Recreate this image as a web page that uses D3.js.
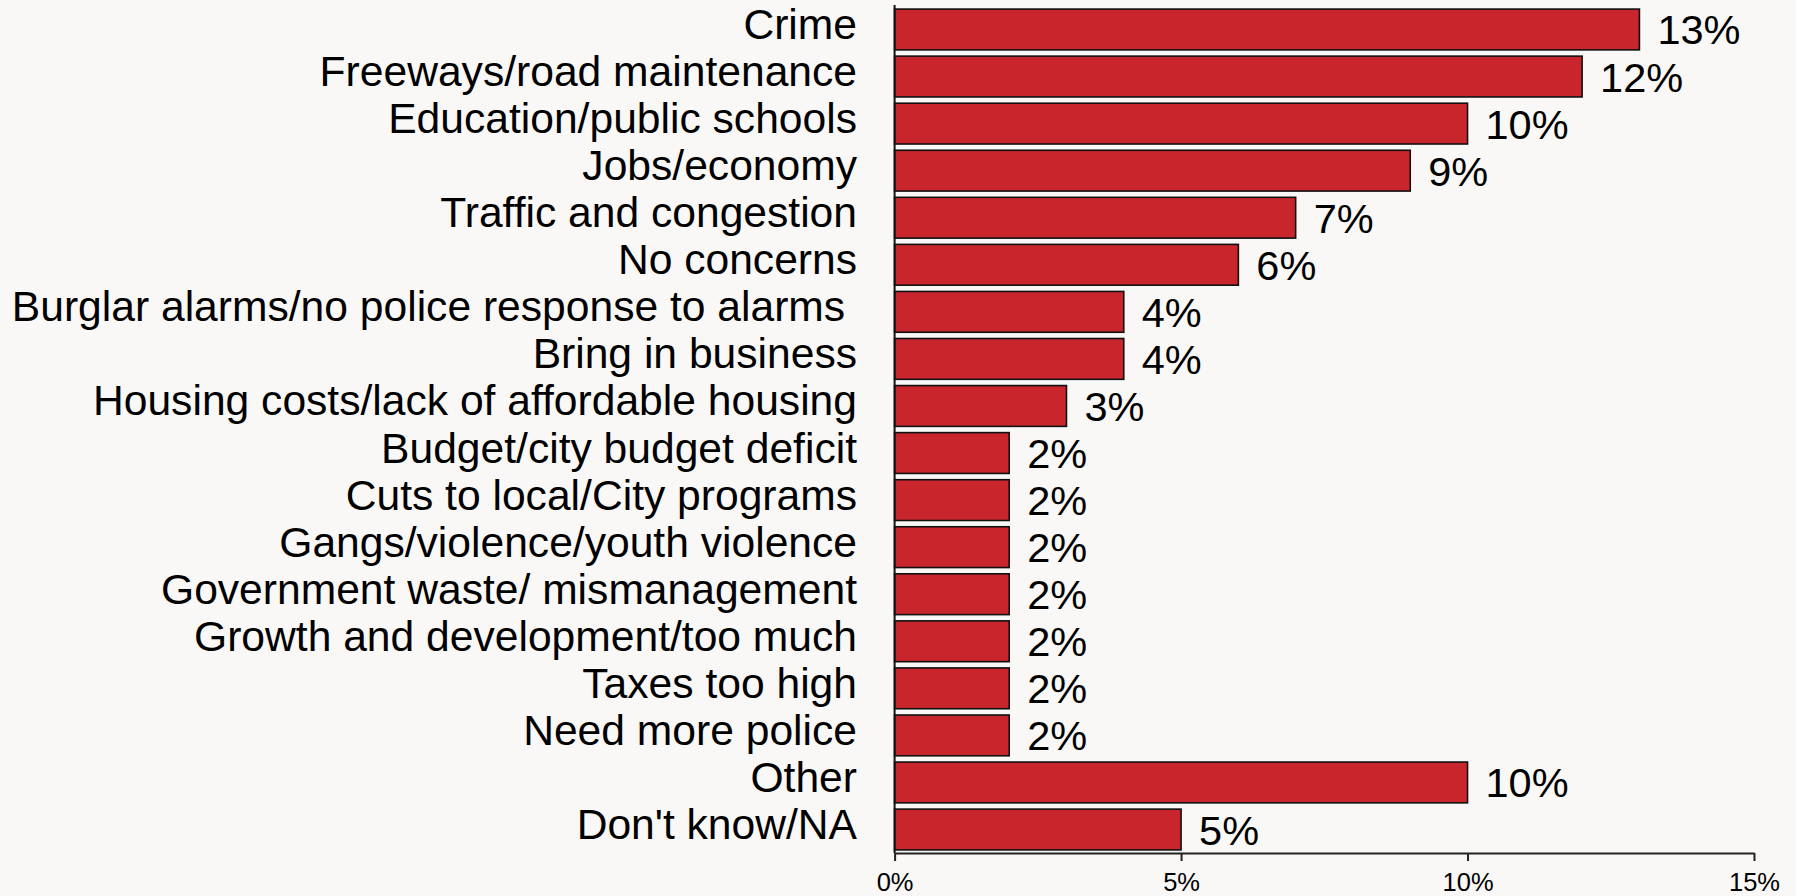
<!DOCTYPE html>
<html>
<head>
<meta charset="utf-8">
<script src="https://cdn.jsdelivr.net/npm/d3@7"></script>
<style>
  html, body { margin: 0; padding: 0; background: #F9F8F6; }
  svg { display: block; }
  text { font-family: "Liberation Sans", Arial, Helvetica, sans-serif; fill: #000; }
</style>
</head>
<body>
<svg id="chart" width="1796" height="896"></svg>
<script>
const categories = [
  "Crime",
  "Freeways/road maintenance",
  "Education/public schools",
  "Jobs/economy",
  "Traffic and congestion",
  "No concerns",
  "Burglar alarms/no police response to alarms ",
  "Bring in business",
  "Housing costs/lack of affordable housing",
  "Budget/city budget deficit",
  "Cuts to local/City programs",
  "Gangs/violence/youth violence",
  "Government waste/ mismanagement",
  "Growth and development/too much",
  "Taxes too high",
  "Need more police",
  "Other",
  "Don't know/NA"
];
const values = [13, 12, 10, 9, 7, 6, 4, 4, 3, 2, 2, 2, 2, 2, 2, 2, 10, 5];
const tickValues = [0, 5, 10, 15];
const tickLabels = ["0%", "5%", "10%", "15%"];

const svg = d3.select("#chart");
const x = d3.scaleLinear().domain([0, 15]).range([894.6, 1754]);
const y = d3.scaleBand().domain(categories).range([5.95, 853.05])
  .paddingInner(0.133).paddingOuter(0.0665);

const data = categories.map((c, i) => ({ c, v: values[i] }));

// bars
svg.append("g").selectAll("rect").data(data).join("rect")
  .attr("x", x(0))
  .attr("y", d => y(d.c))
  .attr("width", d => x(d.v) - x(0))
  .attr("height", y.bandwidth())
  .attr("fill", "#C9252D")
  .attr("stroke", "#111")
  .attr("stroke-width", 1.6);

// y axis line
svg.append("line")
  .attr("x1", x(0)).attr("x2", x(0))
  .attr("y1", 5).attr("y2", 853)
  .attr("stroke", "#111").attr("stroke-width", 2);

// x axis
const xAxis = d3.axisBottom(x).tickValues(tickValues)
  .tickFormat((d, i) => tickLabels[i]).tickSize(8).tickSizeOuter(0).tickPadding(12);
const gx = svg.append("g").attr("transform", "translate(0,853)").call(xAxis);
gx.select(".domain").attr("stroke", "#222").attr("stroke-width", 2);
gx.selectAll(".tick line").attr("stroke", "#222").attr("stroke-width", 2);
gx.selectAll(".tick text")
  .attr("font-family", "Liberation Sans, Arial, sans-serif")
  .attr("font-size", 25.5).attr("fill", "#000");

// category labels
svg.append("g").selectAll("text").data(data).join("text")
  .attr("x", 857)
  .attr("y", d => y(d.c) + y.bandwidth() / 2 + 9.5)
  .attr("text-anchor", "end")
  .attr("font-size", 42.6)
  .style("white-space", "pre")
  .text(d => d.c);

// value labels
svg.append("g").selectAll("text").data(data).join("text")
  .attr("x", d => x(d.v) + 18)
  .attr("y", d => y(d.c) + y.bandwidth() / 2 + 15)
  .attr("font-size", 41.5)
  .text(d => d.v + "%");
</script>
</body>
</html>
